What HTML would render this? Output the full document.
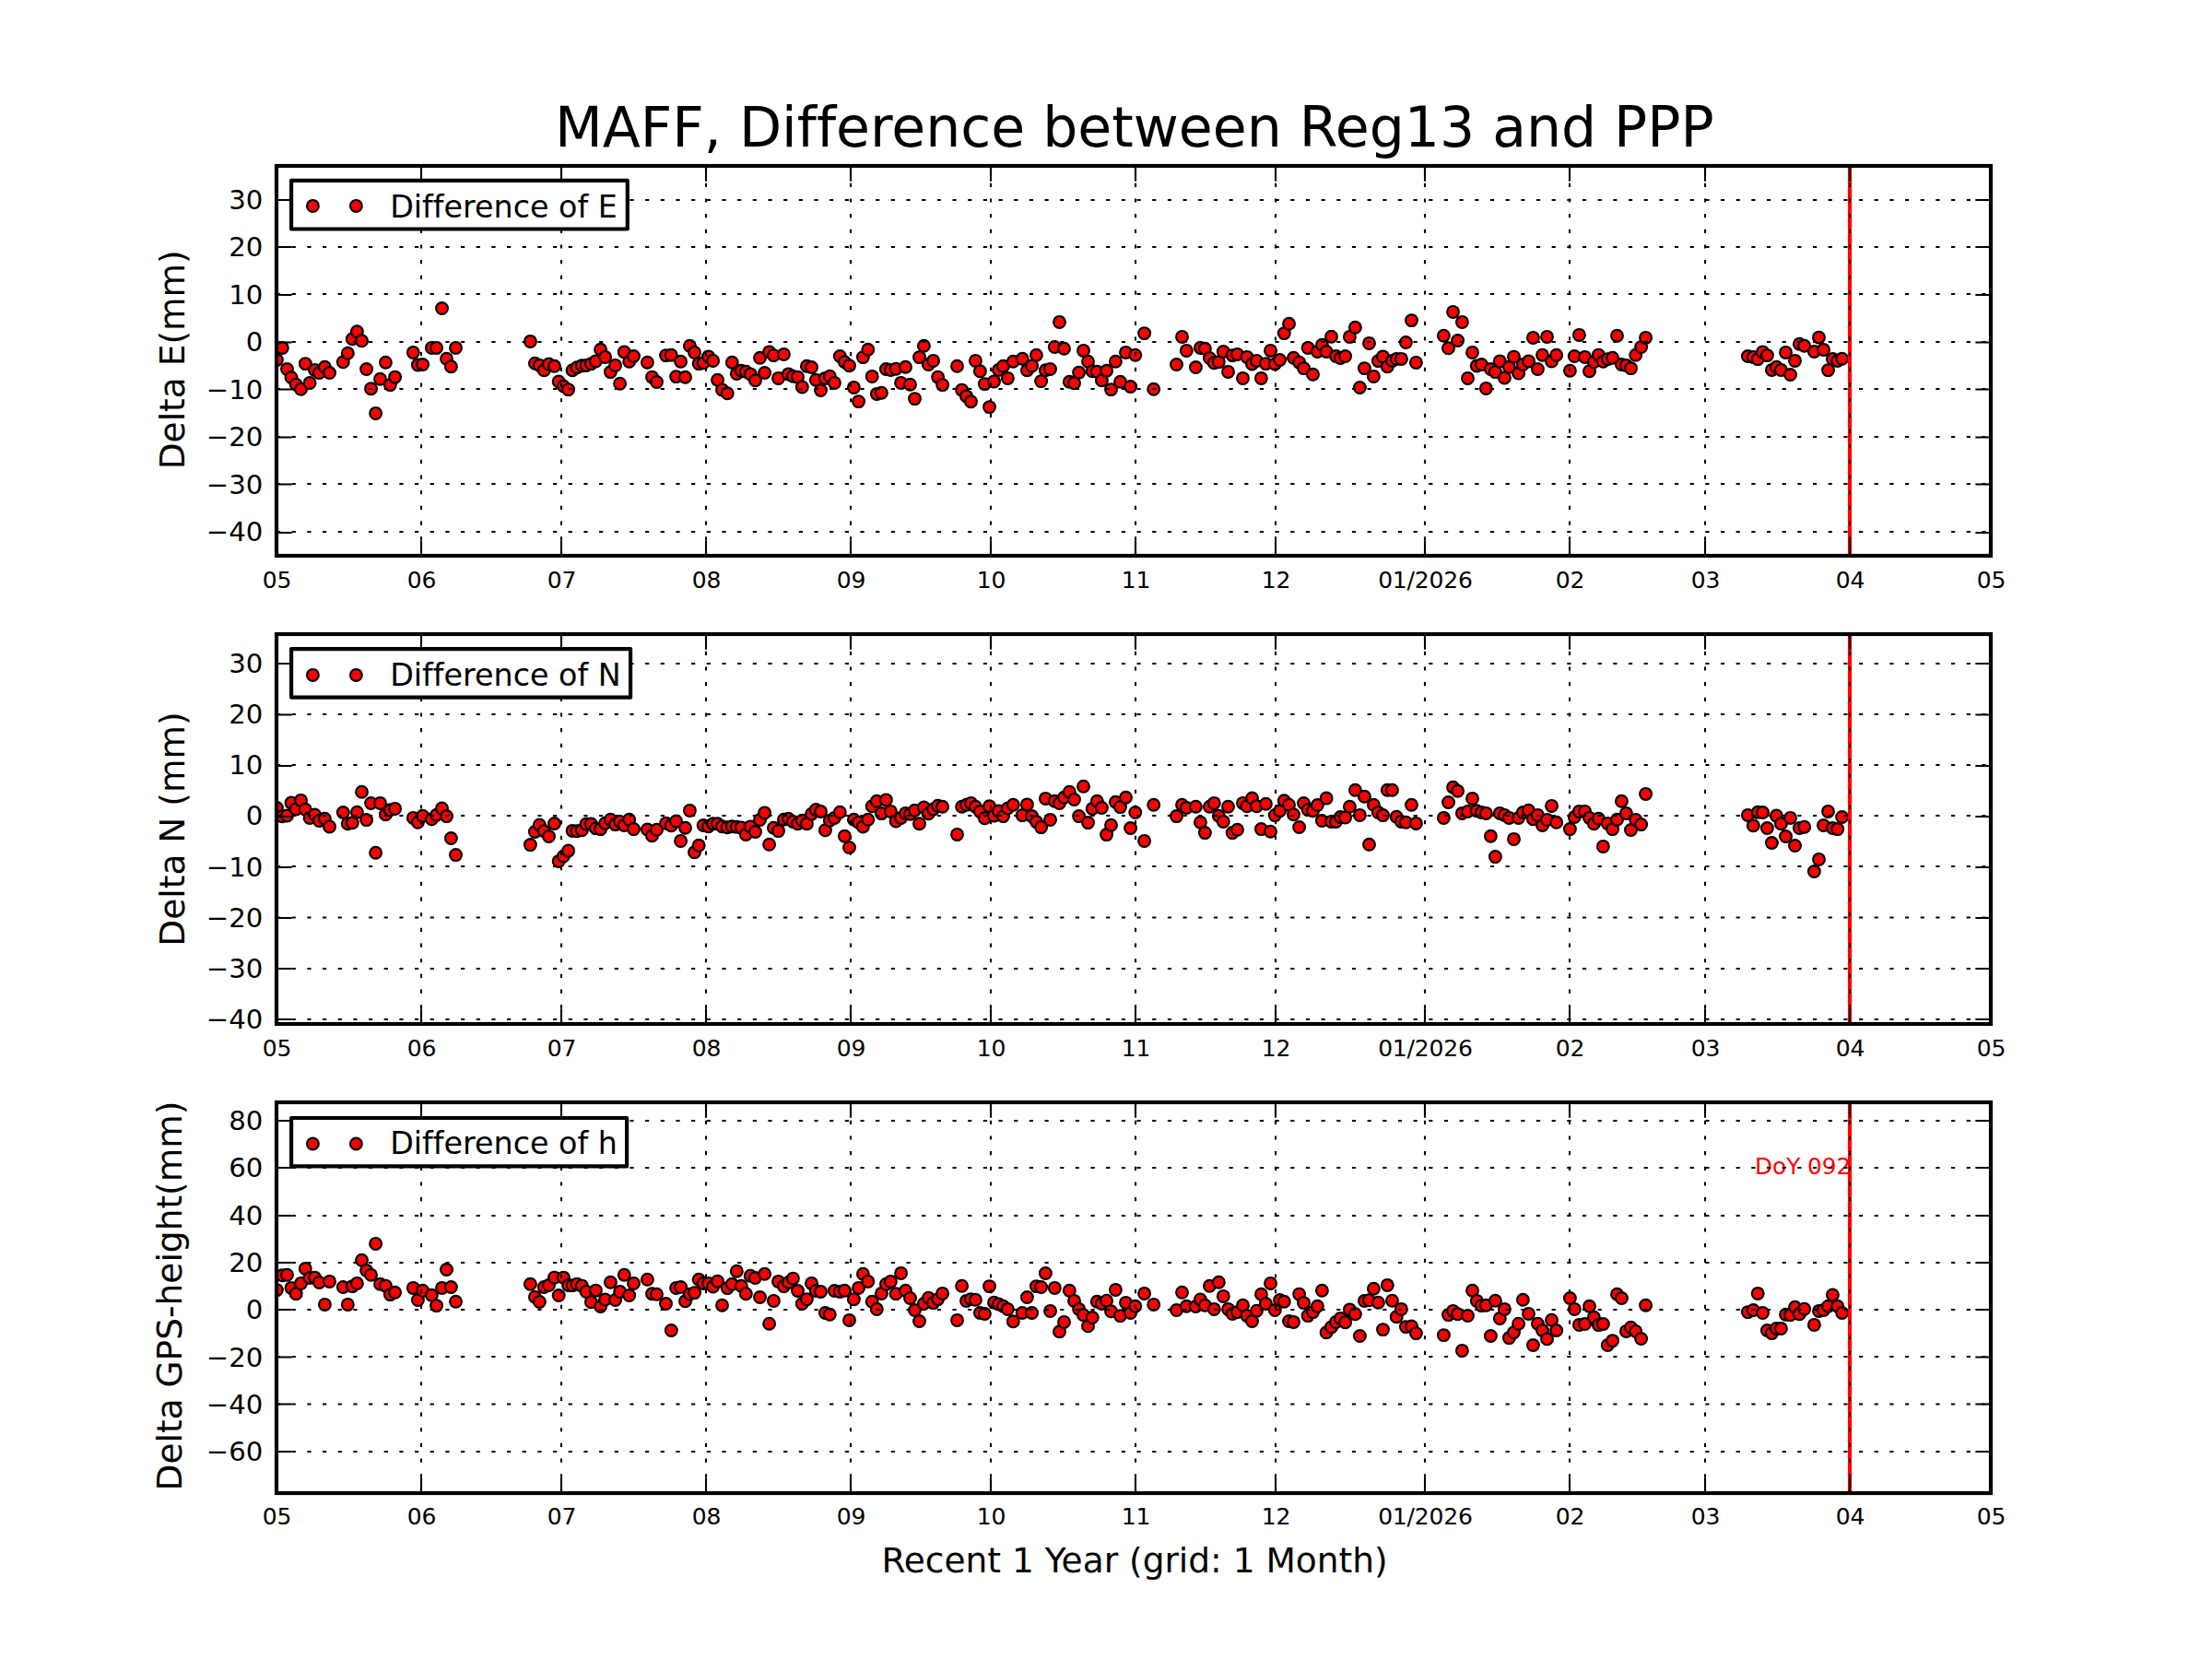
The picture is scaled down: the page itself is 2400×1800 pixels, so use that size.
<!DOCTYPE html>
<html><head><meta charset="utf-8"><title>MAFF, Difference between Reg13 and PPP</title>
<style>html,body{margin:0;padding:0;background:#fff}svg{display:block}text{font-family:"DejaVu Sans","Liberation Sans",sans-serif;fill:#000;font-variant-ligatures:none}.g{stroke:#000;stroke-width:2.08;stroke-dasharray:4.17 12.5;fill:none}.t{stroke:#000;stroke-width:2.08;fill:none}.m circle,circle.m{fill:#f00;stroke:#000;stroke-width:2.15}.yt{font-size:29.17px;text-anchor:end}.xt{font-size:25px;text-anchor:middle;letter-spacing:-0.2px}.yl{font-size:37.5px;text-anchor:middle}.lg{font-size:33.33px}</style></head><body>
<svg width="2400" height="1800" viewBox="0 0 2400 1800">
<rect width="2400" height="1800" fill="#fff"/>
<text x="1230.8" y="159.2" font-size="60" text-anchor="middle">MAFF, Difference between Reg13 and PPP</text>
<g>
<clipPath id="c0"><rect x="300.0" y="180.0" width="1860.0" height="423.0"/></clipPath>
<g class="m" clip-path="url(#c0)">
<circle cx="300.4" cy="390.5" r="6.4"/>
<circle cx="306.3" cy="377.4" r="6.4"/>
<circle cx="311.5" cy="400.5" r="6.4"/>
<circle cx="316" cy="409.5" r="6.4"/>
<circle cx="321.2" cy="417.2" r="6.4"/>
<circle cx="326.5" cy="422.2" r="6.4"/>
<circle cx="331.3" cy="394.6" r="6.4"/>
<circle cx="336.1" cy="415.4" r="6.4"/>
<circle cx="341.5" cy="401.4" r="6.4"/>
<circle cx="346.4" cy="404.5" r="6.4"/>
<circle cx="352.4" cy="398.2" r="6.4"/>
<circle cx="357.5" cy="404.5" r="6.4"/>
<circle cx="372.3" cy="392.8" r="6.4"/>
<circle cx="377.3" cy="383.3" r="6.4"/>
<circle cx="382.3" cy="367.7" r="6.4"/>
<circle cx="387.4" cy="359.8" r="6.4"/>
<circle cx="392.5" cy="369.7" r="6.4"/>
<circle cx="397.6" cy="400.5" r="6.4"/>
<circle cx="402.5" cy="421.7" r="6.4"/>
<circle cx="407.6" cy="448.4" r="6.4"/>
<circle cx="412.5" cy="411.3" r="6.4"/>
<circle cx="418.4" cy="393.2" r="6.4"/>
<circle cx="423.4" cy="417.6" r="6.4"/>
<circle cx="428.6" cy="409.1" r="6.4"/>
<circle cx="448.3" cy="382.4" r="6.4"/>
<circle cx="453.4" cy="395.9" r="6.4"/>
<circle cx="458.6" cy="395.5" r="6.4"/>
<circle cx="468.4" cy="377.4" r="6.4"/>
<circle cx="473.6" cy="377.4" r="6.4"/>
<circle cx="479.5" cy="334.5" r="6.4"/>
<circle cx="484.5" cy="389.2" r="6.4"/>
<circle cx="489.4" cy="397.8" r="6.4"/>
<circle cx="494.5" cy="377.4" r="6.4"/>
<circle cx="575.4" cy="370.4" r="6.4"/>
<circle cx="580.4" cy="394.3" r="6.4"/>
<circle cx="585.4" cy="396.4" r="6.4"/>
<circle cx="590.3" cy="401.8" r="6.4"/>
<circle cx="595.5" cy="395" r="6.4"/>
<circle cx="601.5" cy="397.3" r="6.4"/>
<circle cx="606.2" cy="414" r="6.4"/>
<circle cx="611.4" cy="419" r="6.4"/>
<circle cx="616.6" cy="422.6" r="6.4"/>
<circle cx="621.1" cy="401.8" r="6.4"/>
<circle cx="626" cy="398.7" r="6.4"/>
<circle cx="631.3" cy="396.7" r="6.4"/>
<circle cx="636.1" cy="396.4" r="6.4"/>
<circle cx="641.4" cy="394.6" r="6.4"/>
<circle cx="646.4" cy="391.9" r="6.4"/>
<circle cx="651.6" cy="379.2" r="6.4"/>
<circle cx="656.6" cy="387.4" r="6.4"/>
<circle cx="662.4" cy="403.6" r="6.4"/>
<circle cx="667.6" cy="396.4" r="6.4"/>
<circle cx="672.6" cy="416.3" r="6.4"/>
<circle cx="677.3" cy="381.9" r="6.4"/>
<circle cx="682.7" cy="392.3" r="6.4"/>
<circle cx="687.5" cy="386.5" r="6.4"/>
<circle cx="702.4" cy="393.2" r="6.4"/>
<circle cx="707.5" cy="409.1" r="6.4"/>
<circle cx="712.5" cy="414.5" r="6.4"/>
<circle cx="722.5" cy="385.6" r="6.4"/>
<circle cx="728.3" cy="385.3" r="6.4"/>
<circle cx="733.6" cy="408.6" r="6.4"/>
<circle cx="738.6" cy="392.3" r="6.4"/>
<circle cx="743.5" cy="409.3" r="6.4"/>
<circle cx="748.4" cy="375.2" r="6.4"/>
<circle cx="753.5" cy="382.4" r="6.4"/>
<circle cx="758.2" cy="394.6" r="6.4"/>
<circle cx="763.2" cy="393.7" r="6.4"/>
<circle cx="768.6" cy="386.9" r="6.4"/>
<circle cx="773.6" cy="391.4" r="6.4"/>
<circle cx="778.5" cy="412.2" r="6.4"/>
<circle cx="783.5" cy="422.9" r="6.4"/>
<circle cx="789.2" cy="426.7" r="6.4"/>
<circle cx="794.3" cy="393.2" r="6.4"/>
<circle cx="799.3" cy="405.4" r="6.4"/>
<circle cx="804.3" cy="402.3" r="6.4"/>
<circle cx="809.3" cy="403.2" r="6.4"/>
<circle cx="814.2" cy="405.9" r="6.4"/>
<circle cx="819.5" cy="412.7" r="6.4"/>
<circle cx="824.5" cy="388.3" r="6.4"/>
<circle cx="829.6" cy="404.5" r="6.4"/>
<circle cx="834.6" cy="381.9" r="6.4"/>
<circle cx="839.4" cy="385.6" r="6.4"/>
<circle cx="844.5" cy="410.4" r="6.4"/>
<circle cx="850.4" cy="384.4" r="6.4"/>
<circle cx="855.4" cy="405.9" r="6.4"/>
<circle cx="860.4" cy="408.2" r="6.4"/>
<circle cx="865.5" cy="409.1" r="6.4"/>
<circle cx="870.3" cy="419.9" r="6.4"/>
<circle cx="875.4" cy="397.3" r="6.4"/>
<circle cx="880.5" cy="398.5" r="6.4"/>
<circle cx="885.3" cy="412.2" r="6.4"/>
<circle cx="890.5" cy="423.5" r="6.4"/>
<circle cx="895.4" cy="410.4" r="6.4"/>
<circle cx="900.3" cy="408.2" r="6.4"/>
<circle cx="905.4" cy="415.4" r="6.4"/>
<circle cx="911.3" cy="386.5" r="6.4"/>
<circle cx="916.4" cy="392.8" r="6.4"/>
<circle cx="921.5" cy="396.7" r="6.4"/>
<circle cx="926.4" cy="420.4" r="6.4"/>
<circle cx="931.5" cy="435.6" r="6.4"/>
<circle cx="936.4" cy="387.6" r="6.4"/>
<circle cx="941.8" cy="379.2" r="6.4"/>
<circle cx="946.2" cy="408.4" r="6.4"/>
<circle cx="951.3" cy="427.4" r="6.4"/>
<circle cx="956.4" cy="426.2" r="6.4"/>
<circle cx="961.4" cy="400.5" r="6.4"/>
<circle cx="966.4" cy="401.4" r="6.4"/>
<circle cx="972.1" cy="400.3" r="6.4"/>
<circle cx="977.6" cy="415.4" r="6.4"/>
<circle cx="982.5" cy="398.2" r="6.4"/>
<circle cx="987.5" cy="417.2" r="6.4"/>
<circle cx="992.5" cy="432.6" r="6.4"/>
<circle cx="997.5" cy="387.6" r="6.4"/>
<circle cx="1002.4" cy="375.2" r="6.4"/>
<circle cx="1007.4" cy="395.5" r="6.4"/>
<circle cx="1012.6" cy="391.4" r="6.4"/>
<circle cx="1017.6" cy="409.1" r="6.4"/>
<circle cx="1022.6" cy="417.6" r="6.4"/>
<circle cx="1038.5" cy="397.3" r="6.4"/>
<circle cx="1043.6" cy="423.1" r="6.4"/>
<circle cx="1048.5" cy="429.9" r="6.4"/>
<circle cx="1053.5" cy="435.7" r="6.4"/>
<circle cx="1058.4" cy="391.4" r="6.4"/>
<circle cx="1063.4" cy="402.7" r="6.4"/>
<circle cx="1068.4" cy="416.6" r="6.4"/>
<circle cx="1073.5" cy="441.6" r="6.4"/>
<circle cx="1078.5" cy="413.9" r="6.4"/>
<circle cx="1083.5" cy="401.4" r="6.4"/>
<circle cx="1088.5" cy="397.3" r="6.4"/>
<circle cx="1093.4" cy="410.4" r="6.4"/>
<circle cx="1099.3" cy="392.3" r="6.4"/>
<circle cx="1109.2" cy="389.2" r="6.4"/>
<circle cx="1114.4" cy="401.8" r="6.4"/>
<circle cx="1119.6" cy="396.9" r="6.4"/>
<circle cx="1124.4" cy="385.3" r="6.4"/>
<circle cx="1129.6" cy="413.6" r="6.4"/>
<circle cx="1134.4" cy="401.8" r="6.4"/>
<circle cx="1139.5" cy="400.5" r="6.4"/>
<circle cx="1144.3" cy="376.5" r="6.4"/>
<circle cx="1149.5" cy="349.4" r="6.4"/>
<circle cx="1154.5" cy="378.3" r="6.4"/>
<circle cx="1160.3" cy="414.2" r="6.4"/>
<circle cx="1165.5" cy="415.8" r="6.4"/>
<circle cx="1170.6" cy="404.1" r="6.4"/>
<circle cx="1175.5" cy="380.4" r="6.4"/>
<circle cx="1180.5" cy="392.3" r="6.4"/>
<circle cx="1185.2" cy="402.7" r="6.4"/>
<circle cx="1190.3" cy="403.2" r="6.4"/>
<circle cx="1195.4" cy="412.7" r="6.4"/>
<circle cx="1200.6" cy="402.3" r="6.4"/>
<circle cx="1205.5" cy="422.6" r="6.4"/>
<circle cx="1210.4" cy="392.3" r="6.4"/>
<circle cx="1215.5" cy="414.2" r="6.4"/>
<circle cx="1221.5" cy="382.4" r="6.4"/>
<circle cx="1226.6" cy="419.5" r="6.4"/>
<circle cx="1231.8" cy="385.3" r="6.4"/>
<circle cx="1241.6" cy="361.6" r="6.4"/>
<circle cx="1251.7" cy="422.2" r="6.4"/>
<circle cx="1276.5" cy="395.5" r="6.4"/>
<circle cx="1282.5" cy="365.4" r="6.4"/>
<circle cx="1287.3" cy="380.4" r="6.4"/>
<circle cx="1297.4" cy="398.5" r="6.4"/>
<circle cx="1302.4" cy="377.4" r="6.4"/>
<circle cx="1307.4" cy="378.3" r="6.4"/>
<circle cx="1312.4" cy="388.5" r="6.4"/>
<circle cx="1317.3" cy="393.7" r="6.4"/>
<circle cx="1322.3" cy="392.8" r="6.4"/>
<circle cx="1327.3" cy="381.5" r="6.4"/>
<circle cx="1332.5" cy="403.4" r="6.4"/>
<circle cx="1337.2" cy="385.6" r="6.4"/>
<circle cx="1342.5" cy="384.4" r="6.4"/>
<circle cx="1348.5" cy="410.4" r="6.4"/>
<circle cx="1353" cy="387.4" r="6.4"/>
<circle cx="1358.5" cy="394.9" r="6.4"/>
<circle cx="1363.4" cy="391.4" r="6.4"/>
<circle cx="1368.4" cy="410.4" r="6.4"/>
<circle cx="1373.4" cy="394.6" r="6.4"/>
<circle cx="1378.5" cy="380.4" r="6.4"/>
<circle cx="1383.3" cy="395" r="6.4"/>
<circle cx="1388.6" cy="390.5" r="6.4"/>
<circle cx="1393.3" cy="361.6" r="6.4"/>
<circle cx="1398.5" cy="351.2" r="6.4"/>
<circle cx="1403.5" cy="388.3" r="6.4"/>
<circle cx="1409.6" cy="393.1" r="6.4"/>
<circle cx="1414.5" cy="399.6" r="6.4"/>
<circle cx="1419.1" cy="377.4" r="6.4"/>
<circle cx="1424.5" cy="406.3" r="6.4"/>
<circle cx="1429.4" cy="381.5" r="6.4"/>
<circle cx="1434.4" cy="374.2" r="6.4"/>
<circle cx="1439.1" cy="381.5" r="6.4"/>
<circle cx="1444.5" cy="365.2" r="6.4"/>
<circle cx="1449.5" cy="386.5" r="6.4"/>
<circle cx="1454.4" cy="388.5" r="6.4"/>
<circle cx="1459.6" cy="386.5" r="6.4"/>
<circle cx="1464.4" cy="365.4" r="6.4"/>
<circle cx="1470.4" cy="355.3" r="6.4"/>
<circle cx="1475.4" cy="420.5" r="6.4"/>
<circle cx="1480.4" cy="399.6" r="6.4"/>
<circle cx="1485.5" cy="372.4" r="6.4"/>
<circle cx="1490.4" cy="408.4" r="6.4"/>
<circle cx="1495.4" cy="391.6" r="6.4"/>
<circle cx="1500.5" cy="386.9" r="6.4"/>
<circle cx="1505.3" cy="397.8" r="6.4"/>
<circle cx="1510.5" cy="391.4" r="6.4"/>
<circle cx="1515.2" cy="389.4" r="6.4"/>
<circle cx="1520.4" cy="389.4" r="6.4"/>
<circle cx="1525.4" cy="371.5" r="6.4"/>
<circle cx="1531.5" cy="347.6" r="6.4"/>
<circle cx="1536.4" cy="393.4" r="6.4"/>
<circle cx="1566.4" cy="364.3" r="6.4"/>
<circle cx="1571.5" cy="377.7" r="6.4"/>
<circle cx="1576.5" cy="338.4" r="6.4"/>
<circle cx="1581.6" cy="369.5" r="6.4"/>
<circle cx="1586.4" cy="349.4" r="6.4"/>
<circle cx="1592.5" cy="410.4" r="6.4"/>
<circle cx="1597.5" cy="382.4" r="6.4"/>
<circle cx="1602.3" cy="396.9" r="6.4"/>
<circle cx="1607.4" cy="395.5" r="6.4"/>
<circle cx="1612.4" cy="421.4" r="6.4"/>
<circle cx="1617.4" cy="400.5" r="6.4"/>
<circle cx="1622.4" cy="403.6" r="6.4"/>
<circle cx="1627.3" cy="391.9" r="6.4"/>
<circle cx="1632.4" cy="410" r="6.4"/>
<circle cx="1637.4" cy="398.2" r="6.4"/>
<circle cx="1642.5" cy="387.1" r="6.4"/>
<circle cx="1647.6" cy="405" r="6.4"/>
<circle cx="1652.4" cy="395.5" r="6.4"/>
<circle cx="1658.5" cy="391.9" r="6.4"/>
<circle cx="1663.4" cy="366.4" r="6.4"/>
<circle cx="1668.4" cy="400.5" r="6.4"/>
<circle cx="1673.5" cy="385.3" r="6.4"/>
<circle cx="1678.5" cy="365.4" r="6.4"/>
<circle cx="1683.5" cy="391.9" r="6.4"/>
<circle cx="1688.7" cy="385.3" r="6.4"/>
<circle cx="1703.4" cy="402.3" r="6.4"/>
<circle cx="1708.3" cy="386.5" r="6.4"/>
<circle cx="1713.4" cy="363.4" r="6.4"/>
<circle cx="1719.6" cy="387.4" r="6.4"/>
<circle cx="1724.5" cy="402.7" r="6.4"/>
<circle cx="1729.4" cy="392.8" r="6.4"/>
<circle cx="1734.4" cy="385.1" r="6.4"/>
<circle cx="1739.4" cy="392.3" r="6.4"/>
<circle cx="1744.3" cy="389.6" r="6.4"/>
<circle cx="1749.6" cy="388.3" r="6.4"/>
<circle cx="1754.5" cy="364.3" r="6.4"/>
<circle cx="1759.4" cy="395.5" r="6.4"/>
<circle cx="1764.4" cy="396.4" r="6.4"/>
<circle cx="1769.5" cy="399.6" r="6.4"/>
<circle cx="1774.7" cy="385.3" r="6.4"/>
<circle cx="1780.6" cy="376.5" r="6.4"/>
<circle cx="1785.6" cy="366.4" r="6.4"/>
<circle cx="1896.4" cy="386.5" r="6.4"/>
<circle cx="1902.3" cy="387.4" r="6.4"/>
<circle cx="1907.2" cy="389.6" r="6.4"/>
<circle cx="1912.5" cy="381.9" r="6.4"/>
<circle cx="1917.4" cy="385.6" r="6.4"/>
<circle cx="1922.4" cy="401.4" r="6.4"/>
<circle cx="1927.4" cy="398.2" r="6.4"/>
<circle cx="1932.4" cy="401.4" r="6.4"/>
<circle cx="1937.5" cy="382.4" r="6.4"/>
<circle cx="1942.5" cy="406.5" r="6.4"/>
<circle cx="1947.5" cy="391.4" r="6.4"/>
<circle cx="1952.4" cy="373.3" r="6.4"/>
<circle cx="1957.7" cy="375.3" r="6.4"/>
<circle cx="1968.4" cy="381.5" r="6.4"/>
<circle cx="1973.5" cy="366.1" r="6.4"/>
<circle cx="1978.5" cy="379.4" r="6.4"/>
<circle cx="1983.5" cy="401.6" r="6.4"/>
<circle cx="1988.4" cy="389.4" r="6.4"/>
<circle cx="1993.7" cy="391.4" r="6.4"/>
<circle cx="1998.6" cy="389.2" r="6.4"/>
<line x1="2007.0" y1="180.0" x2="2007.0" y2="603.0" stroke="#f00" stroke-width="4.17"/>
</g>
<line class="g" x1="457" y1="603.0" x2="457" y2="180.0"/>
<line class="g" x1="609" y1="603.0" x2="609" y2="180.0"/>
<line class="g" x1="766" y1="603.0" x2="766" y2="180.0"/>
<line class="g" x1="923" y1="603.0" x2="923" y2="180.0"/>
<line class="g" x1="1075" y1="603.0" x2="1075" y2="180.0"/>
<line class="g" x1="1232" y1="603.0" x2="1232" y2="180.0"/>
<line class="g" x1="1384" y1="603.0" x2="1384" y2="180.0"/>
<line class="g" x1="1546" y1="603.0" x2="1546" y2="180.0"/>
<line class="g" x1="1703" y1="603.0" x2="1703" y2="180.0"/>
<line class="g" x1="1850" y1="603.0" x2="1850" y2="180.0"/>
<line class="g" x1="2007" y1="603.0" x2="2007" y2="180.0"/>
<line class="g" x1="300.0" y1="217" x2="2160.0" y2="217"/>
<line class="g" x1="300.0" y1="268" x2="2160.0" y2="268"/>
<line class="g" x1="300.0" y1="319" x2="2160.0" y2="319"/>
<line class="g" x1="300.0" y1="371" x2="2160.0" y2="371"/>
<line class="g" x1="300.0" y1="422" x2="2160.0" y2="422"/>
<line class="g" x1="300.0" y1="474" x2="2160.0" y2="474"/>
<line class="g" x1="300.0" y1="525" x2="2160.0" y2="525"/>
<line class="g" x1="300.0" y1="577" x2="2160.0" y2="577"/>
<path class="t" d="M300 603.0v-16.67M300 180.0v16.67M457 603.0v-16.67M457 180.0v16.67M609 603.0v-16.67M609 180.0v16.67M766 603.0v-16.67M766 180.0v16.67M923 603.0v-16.67M923 180.0v16.67M1075 603.0v-16.67M1075 180.0v16.67M1232 603.0v-16.67M1232 180.0v16.67M1384 603.0v-16.67M1384 180.0v16.67M1546 603.0v-16.67M1546 180.0v16.67M1703 603.0v-16.67M1703 180.0v16.67M1850 603.0v-16.67M1850 180.0v16.67M2007 603.0v-16.67M2007 180.0v16.67M2160 603.0v-16.67M2160 180.0v16.67M300.0 217h16.67M2160.0 217h-16.67M300.0 268h16.67M2160.0 268h-16.67M300.0 320h16.67M2160.0 320h-16.67M300.0 371.5h16.67M2160.0 371.5h-16.67M300.0 422.5h16.67M2160.0 422.5h-16.67M300.0 474.5h16.67M2160.0 474.5h-16.67M300.0 525.5h16.67M2160.0 525.5h-16.67M300.0 578h16.67M2160.0 578h-16.67"/>
<rect x="300.0" y="180.0" width="1860.0" height="423.0" fill="none" stroke="#000" stroke-width="4.17"/>
<text class="yt" x="285.4" y="226.9">30</text>
<text class="yt" x="285.4" y="277.9">20</text>
<text class="yt" x="285.4" y="329.9">10</text>
<text class="yt" x="285.4" y="380.9">0</text>
<text class="yt" x="285.4" y="432.9">−10</text>
<text class="yt" x="285.4" y="483.9">−20</text>
<text class="yt" x="285.4" y="535.9">−30</text>
<text class="yt" x="285.4" y="586.9">−40</text>
<text class="xt" x="300.4" y="638">05</text>
<text class="xt" x="457.4" y="638">06</text>
<text class="xt" x="609.4" y="638">07</text>
<text class="xt" x="766.4" y="638">08</text>
<text class="xt" x="923.4" y="638">09</text>
<text class="xt" x="1075.4" y="638">10</text>
<text class="xt" x="1232.4" y="638">11</text>
<text class="xt" x="1384.4" y="638">12</text>
<text class="xt" x="1546.4" y="638">01/2026</text>
<text class="xt" x="1703.4" y="638">02</text>
<text class="xt" x="1850.4" y="638">03</text>
<text class="xt" x="2007.4" y="638">04</text>
<text class="xt" x="2160.4" y="638">05</text>
<text class="yl" transform="translate(200.3 390.3) rotate(-90)">Delta E(mm)</text>
<rect x="316.1" y="195.9" width="364.7" height="52.6" fill="#fff" stroke="#000" stroke-width="4.17" stroke-linejoin="round"/>
<circle class="m" cx="339.4" cy="223.4" r="6.4"/><circle class="m" cx="386.4" cy="223.4" r="6.4"/>
<text class="lg" x="423.2" y="235.7">Difference of E</text>
</g>
<g>
<clipPath id="c1"><rect x="300.0" y="688.0" width="1860.0" height="423.0"/></clipPath>
<g class="m" clip-path="url(#c1)">
<circle cx="300.4" cy="876.5" r="6.4"/>
<circle cx="306.3" cy="885.8" r="6.4"/>
<circle cx="311.5" cy="884.9" r="6.4"/>
<circle cx="316" cy="871.1" r="6.4"/>
<circle cx="321.2" cy="877.9" r="6.4"/>
<circle cx="326.5" cy="868.4" r="6.4"/>
<circle cx="331.3" cy="878.3" r="6.4"/>
<circle cx="336.1" cy="887.4" r="6.4"/>
<circle cx="341.5" cy="884" r="6.4"/>
<circle cx="346.4" cy="890.5" r="6.4"/>
<circle cx="352.4" cy="888.3" r="6.4"/>
<circle cx="357.5" cy="896.9" r="6.4"/>
<circle cx="372.3" cy="881.5" r="6.4"/>
<circle cx="377.3" cy="893.7" r="6.4"/>
<circle cx="382.3" cy="892.8" r="6.4"/>
<circle cx="387.4" cy="881.3" r="6.4"/>
<circle cx="392.5" cy="859.3" r="6.4"/>
<circle cx="397.6" cy="889.6" r="6.4"/>
<circle cx="402.5" cy="871.5" r="6.4"/>
<circle cx="407.6" cy="925.3" r="6.4"/>
<circle cx="412.5" cy="871.4" r="6.4"/>
<circle cx="418.4" cy="883.7" r="6.4"/>
<circle cx="423.4" cy="878.8" r="6.4"/>
<circle cx="428.6" cy="877.4" r="6.4"/>
<circle cx="448.3" cy="887.4" r="6.4"/>
<circle cx="453.4" cy="892.3" r="6.4"/>
<circle cx="458.6" cy="885.3" r="6.4"/>
<circle cx="468.4" cy="888.7" r="6.4"/>
<circle cx="473.6" cy="884.2" r="6.4"/>
<circle cx="479.5" cy="877.1" r="6.4"/>
<circle cx="484.5" cy="885.6" r="6.4"/>
<circle cx="489.4" cy="909.5" r="6.4"/>
<circle cx="494.5" cy="927.6" r="6.4"/>
<circle cx="575.4" cy="916.6" r="6.4"/>
<circle cx="580.4" cy="902.5" r="6.4"/>
<circle cx="585.4" cy="895" r="6.4"/>
<circle cx="590.3" cy="901.8" r="6.4"/>
<circle cx="595.5" cy="907.5" r="6.4"/>
<circle cx="601.5" cy="893.5" r="6.4"/>
<circle cx="606.2" cy="934.4" r="6.4"/>
<circle cx="611.4" cy="929" r="6.4"/>
<circle cx="616.6" cy="923.1" r="6.4"/>
<circle cx="621.1" cy="901.4" r="6.4"/>
<circle cx="626" cy="901.8" r="6.4"/>
<circle cx="631.3" cy="900.7" r="6.4"/>
<circle cx="636.1" cy="894.1" r="6.4"/>
<circle cx="641.4" cy="894.1" r="6.4"/>
<circle cx="646.4" cy="898.8" r="6.4"/>
<circle cx="651.6" cy="899.6" r="6.4"/>
<circle cx="656.6" cy="893.2" r="6.4"/>
<circle cx="662.4" cy="889.2" r="6.4"/>
<circle cx="667.6" cy="894.6" r="6.4"/>
<circle cx="672.6" cy="891.4" r="6.4"/>
<circle cx="677.3" cy="895.5" r="6.4"/>
<circle cx="682.7" cy="889.2" r="6.4"/>
<circle cx="687.5" cy="899.6" r="6.4"/>
<circle cx="702.4" cy="900" r="6.4"/>
<circle cx="707.5" cy="906.8" r="6.4"/>
<circle cx="712.5" cy="900.3" r="6.4"/>
<circle cx="722.5" cy="893.2" r="6.4"/>
<circle cx="728.3" cy="895.8" r="6.4"/>
<circle cx="733.6" cy="891" r="6.4"/>
<circle cx="738.6" cy="912.4" r="6.4"/>
<circle cx="743.5" cy="898.2" r="6.4"/>
<circle cx="748.4" cy="879.4" r="6.4"/>
<circle cx="753.5" cy="924.7" r="6.4"/>
<circle cx="758.2" cy="917.2" r="6.4"/>
<circle cx="763.2" cy="895.5" r="6.4"/>
<circle cx="768.6" cy="896.7" r="6.4"/>
<circle cx="773.6" cy="893.7" r="6.4"/>
<circle cx="778.5" cy="893.7" r="6.4"/>
<circle cx="783.5" cy="896.7" r="6.4"/>
<circle cx="789.2" cy="897.8" r="6.4"/>
<circle cx="794.3" cy="896.7" r="6.4"/>
<circle cx="799.3" cy="897.3" r="6.4"/>
<circle cx="804.3" cy="897.9" r="6.4"/>
<circle cx="809.3" cy="905.4" r="6.4"/>
<circle cx="814.2" cy="896.9" r="6.4"/>
<circle cx="819.5" cy="902.5" r="6.4"/>
<circle cx="824.5" cy="889.4" r="6.4"/>
<circle cx="829.6" cy="881.9" r="6.4"/>
<circle cx="834.6" cy="916.3" r="6.4"/>
<circle cx="839.4" cy="898.2" r="6.4"/>
<circle cx="844.5" cy="901.6" r="6.4"/>
<circle cx="850.4" cy="889.2" r="6.4"/>
<circle cx="855.4" cy="888.3" r="6.4"/>
<circle cx="860.4" cy="891.4" r="6.4"/>
<circle cx="865.5" cy="893.7" r="6.4"/>
<circle cx="870.3" cy="890.3" r="6.4"/>
<circle cx="875.4" cy="893.7" r="6.4"/>
<circle cx="880.5" cy="883.3" r="6.4"/>
<circle cx="885.3" cy="878.6" r="6.4"/>
<circle cx="890.5" cy="880.4" r="6.4"/>
<circle cx="895.4" cy="900.7" r="6.4"/>
<circle cx="900.3" cy="890.3" r="6.4"/>
<circle cx="905.4" cy="887.4" r="6.4"/>
<circle cx="911.3" cy="881.3" r="6.4"/>
<circle cx="916.4" cy="907.3" r="6.4"/>
<circle cx="921.5" cy="919.5" r="6.4"/>
<circle cx="926.4" cy="889.2" r="6.4"/>
<circle cx="931.5" cy="892.3" r="6.4"/>
<circle cx="936.4" cy="896.9" r="6.4"/>
<circle cx="941.8" cy="889.2" r="6.4"/>
<circle cx="946.2" cy="874.7" r="6.4"/>
<circle cx="951.3" cy="869.3" r="6.4"/>
<circle cx="956.4" cy="882.6" r="6.4"/>
<circle cx="961.4" cy="867.9" r="6.4"/>
<circle cx="966.4" cy="880.4" r="6.4"/>
<circle cx="972.1" cy="891" r="6.4"/>
<circle cx="977.6" cy="887.4" r="6.4"/>
<circle cx="982.5" cy="882.4" r="6.4"/>
<circle cx="987.5" cy="883.3" r="6.4"/>
<circle cx="992.5" cy="879.2" r="6.4"/>
<circle cx="997.5" cy="893.7" r="6.4"/>
<circle cx="1002.4" cy="876.1" r="6.4"/>
<circle cx="1007.4" cy="882.8" r="6.4"/>
<circle cx="1012.6" cy="877.9" r="6.4"/>
<circle cx="1017.6" cy="874.2" r="6.4"/>
<circle cx="1022.6" cy="875.3" r="6.4"/>
<circle cx="1038.5" cy="905.4" r="6.4"/>
<circle cx="1043.6" cy="875.3" r="6.4"/>
<circle cx="1048.5" cy="873.3" r="6.4"/>
<circle cx="1053.5" cy="871.4" r="6.4"/>
<circle cx="1058.4" cy="875.3" r="6.4"/>
<circle cx="1063.4" cy="880.6" r="6.4"/>
<circle cx="1068.4" cy="887.8" r="6.4"/>
<circle cx="1073.5" cy="874.7" r="6.4"/>
<circle cx="1078.5" cy="885.1" r="6.4"/>
<circle cx="1083.5" cy="880.1" r="6.4"/>
<circle cx="1088.5" cy="885.6" r="6.4"/>
<circle cx="1093.4" cy="877" r="6.4"/>
<circle cx="1099.3" cy="873.3" r="6.4"/>
<circle cx="1109.2" cy="884.6" r="6.4"/>
<circle cx="1114.4" cy="872.9" r="6.4"/>
<circle cx="1119.6" cy="885.6" r="6.4"/>
<circle cx="1124.4" cy="891.6" r="6.4"/>
<circle cx="1129.6" cy="897.6" r="6.4"/>
<circle cx="1134.4" cy="866.4" r="6.4"/>
<circle cx="1139.5" cy="889.4" r="6.4"/>
<circle cx="1144.3" cy="869.3" r="6.4"/>
<circle cx="1149.5" cy="871.5" r="6.4"/>
<circle cx="1154.5" cy="865.2" r="6.4"/>
<circle cx="1160.3" cy="859.3" r="6.4"/>
<circle cx="1165.5" cy="867.5" r="6.4"/>
<circle cx="1170.6" cy="885.6" r="6.4"/>
<circle cx="1175.5" cy="853.3" r="6.4"/>
<circle cx="1180.5" cy="892.6" r="6.4"/>
<circle cx="1185.2" cy="877.4" r="6.4"/>
<circle cx="1190.3" cy="869.3" r="6.4"/>
<circle cx="1195.4" cy="876.5" r="6.4"/>
<circle cx="1200.6" cy="905.6" r="6.4"/>
<circle cx="1205.5" cy="895.3" r="6.4"/>
<circle cx="1210.4" cy="870.2" r="6.4"/>
<circle cx="1215.5" cy="875.6" r="6.4"/>
<circle cx="1221.5" cy="865.2" r="6.4"/>
<circle cx="1226.6" cy="898.5" r="6.4"/>
<circle cx="1231.8" cy="881.5" r="6.4"/>
<circle cx="1241.6" cy="912.4" r="6.4"/>
<circle cx="1251.7" cy="873.3" r="6.4"/>
<circle cx="1276.5" cy="885.6" r="6.4"/>
<circle cx="1282.5" cy="873.3" r="6.4"/>
<circle cx="1287.3" cy="876.5" r="6.4"/>
<circle cx="1297.4" cy="875.2" r="6.4"/>
<circle cx="1302.4" cy="892.3" r="6.4"/>
<circle cx="1307.4" cy="903.6" r="6.4"/>
<circle cx="1312.4" cy="875.3" r="6.4"/>
<circle cx="1317.3" cy="871.4" r="6.4"/>
<circle cx="1322.3" cy="885.3" r="6.4"/>
<circle cx="1327.3" cy="891.4" r="6.4"/>
<circle cx="1332.5" cy="875.3" r="6.4"/>
<circle cx="1337.2" cy="903.6" r="6.4"/>
<circle cx="1342.5" cy="900.3" r="6.4"/>
<circle cx="1348.5" cy="871.4" r="6.4"/>
<circle cx="1353" cy="874.7" r="6.4"/>
<circle cx="1358.5" cy="866.1" r="6.4"/>
<circle cx="1363.4" cy="874.7" r="6.4"/>
<circle cx="1368.4" cy="899.6" r="6.4"/>
<circle cx="1373.4" cy="872.3" r="6.4"/>
<circle cx="1378.5" cy="902.3" r="6.4"/>
<circle cx="1383.3" cy="884.6" r="6.4"/>
<circle cx="1388.6" cy="879.7" r="6.4"/>
<circle cx="1393.3" cy="868.8" r="6.4"/>
<circle cx="1398.5" cy="873.3" r="6.4"/>
<circle cx="1403.5" cy="883.7" r="6.4"/>
<circle cx="1409.6" cy="897.5" r="6.4"/>
<circle cx="1414.5" cy="871.5" r="6.4"/>
<circle cx="1419.1" cy="878.6" r="6.4"/>
<circle cx="1424.5" cy="879.7" r="6.4"/>
<circle cx="1429.4" cy="873.5" r="6.4"/>
<circle cx="1434.4" cy="890.5" r="6.4"/>
<circle cx="1439.1" cy="866.1" r="6.4"/>
<circle cx="1444.5" cy="891.4" r="6.4"/>
<circle cx="1449.5" cy="891.4" r="6.4"/>
<circle cx="1454.4" cy="886.5" r="6.4"/>
<circle cx="1459.6" cy="886.9" r="6.4"/>
<circle cx="1464.4" cy="875.2" r="6.4"/>
<circle cx="1470.4" cy="857.3" r="6.4"/>
<circle cx="1475.4" cy="884.4" r="6.4"/>
<circle cx="1480.4" cy="864.3" r="6.4"/>
<circle cx="1485.5" cy="916.3" r="6.4"/>
<circle cx="1490.4" cy="873.3" r="6.4"/>
<circle cx="1495.4" cy="881.5" r="6.4"/>
<circle cx="1500.5" cy="884.6" r="6.4"/>
<circle cx="1505.3" cy="857.3" r="6.4"/>
<circle cx="1510.5" cy="857.3" r="6.4"/>
<circle cx="1515.2" cy="886.3" r="6.4"/>
<circle cx="1520.4" cy="891.4" r="6.4"/>
<circle cx="1525.4" cy="892.3" r="6.4"/>
<circle cx="1531.5" cy="873.3" r="6.4"/>
<circle cx="1536.4" cy="893.4" r="6.4"/>
<circle cx="1566.4" cy="887.4" r="6.4"/>
<circle cx="1571.5" cy="870.5" r="6.4"/>
<circle cx="1576.5" cy="854.2" r="6.4"/>
<circle cx="1581.6" cy="858.2" r="6.4"/>
<circle cx="1586.4" cy="882.4" r="6.4"/>
<circle cx="1592.5" cy="880.4" r="6.4"/>
<circle cx="1597.5" cy="866.4" r="6.4"/>
<circle cx="1602.3" cy="879.7" r="6.4"/>
<circle cx="1607.4" cy="881.5" r="6.4"/>
<circle cx="1612.4" cy="882.4" r="6.4"/>
<circle cx="1617.4" cy="907.3" r="6.4"/>
<circle cx="1622.4" cy="929.6" r="6.4"/>
<circle cx="1627.3" cy="882.4" r="6.4"/>
<circle cx="1632.4" cy="884.4" r="6.4"/>
<circle cx="1637.4" cy="887.4" r="6.4"/>
<circle cx="1642.5" cy="910.4" r="6.4"/>
<circle cx="1647.6" cy="887.4" r="6.4"/>
<circle cx="1652.4" cy="881.5" r="6.4"/>
<circle cx="1658.5" cy="879.2" r="6.4"/>
<circle cx="1663.4" cy="888.7" r="6.4"/>
<circle cx="1668.4" cy="884.4" r="6.4"/>
<circle cx="1673.5" cy="895.5" r="6.4"/>
<circle cx="1678.5" cy="889.4" r="6.4"/>
<circle cx="1683.5" cy="874.4" r="6.4"/>
<circle cx="1688.7" cy="892.3" r="6.4"/>
<circle cx="1703.4" cy="899.6" r="6.4"/>
<circle cx="1708.3" cy="886.5" r="6.4"/>
<circle cx="1713.4" cy="880.4" r="6.4"/>
<circle cx="1719.6" cy="880.4" r="6.4"/>
<circle cx="1724.5" cy="887.4" r="6.4"/>
<circle cx="1729.4" cy="893.7" r="6.4"/>
<circle cx="1734.4" cy="888.3" r="6.4"/>
<circle cx="1739.4" cy="918.4" r="6.4"/>
<circle cx="1744.3" cy="893.4" r="6.4"/>
<circle cx="1749.6" cy="899.6" r="6.4"/>
<circle cx="1754.5" cy="889.2" r="6.4"/>
<circle cx="1759.4" cy="869.3" r="6.4"/>
<circle cx="1764.4" cy="882.4" r="6.4"/>
<circle cx="1769.5" cy="900.5" r="6.4"/>
<circle cx="1774.7" cy="889.4" r="6.4"/>
<circle cx="1780.6" cy="894.6" r="6.4"/>
<circle cx="1785.6" cy="861.4" r="6.4"/>
<circle cx="1896.4" cy="884.4" r="6.4"/>
<circle cx="1902.3" cy="895.8" r="6.4"/>
<circle cx="1907.2" cy="881.3" r="6.4"/>
<circle cx="1912.5" cy="881.5" r="6.4"/>
<circle cx="1917.4" cy="898.5" r="6.4"/>
<circle cx="1922.4" cy="914.5" r="6.4"/>
<circle cx="1927.4" cy="885.1" r="6.4"/>
<circle cx="1932.4" cy="893.7" r="6.4"/>
<circle cx="1937.5" cy="907.5" r="6.4"/>
<circle cx="1942.5" cy="887.4" r="6.4"/>
<circle cx="1947.5" cy="917.5" r="6.4"/>
<circle cx="1952.4" cy="898.5" r="6.4"/>
<circle cx="1957.7" cy="897.3" r="6.4"/>
<circle cx="1968.4" cy="945.5" r="6.4"/>
<circle cx="1973.5" cy="932.4" r="6.4"/>
<circle cx="1978.5" cy="895.5" r="6.4"/>
<circle cx="1983.5" cy="880.4" r="6.4"/>
<circle cx="1988.4" cy="898.5" r="6.4"/>
<circle cx="1993.7" cy="899.6" r="6.4"/>
<circle cx="1998.6" cy="886.5" r="6.4"/>
<line x1="2007.0" y1="688.0" x2="2007.0" y2="1111.0" stroke="#f00" stroke-width="4.17"/>
</g>
<line class="g" x1="457" y1="1111.0" x2="457" y2="688.0"/>
<line class="g" x1="609" y1="1111.0" x2="609" y2="688.0"/>
<line class="g" x1="766" y1="1111.0" x2="766" y2="688.0"/>
<line class="g" x1="923" y1="1111.0" x2="923" y2="688.0"/>
<line class="g" x1="1075" y1="1111.0" x2="1075" y2="688.0"/>
<line class="g" x1="1232" y1="1111.0" x2="1232" y2="688.0"/>
<line class="g" x1="1384" y1="1111.0" x2="1384" y2="688.0"/>
<line class="g" x1="1546" y1="1111.0" x2="1546" y2="688.0"/>
<line class="g" x1="1703" y1="1111.0" x2="1703" y2="688.0"/>
<line class="g" x1="1850" y1="1111.0" x2="1850" y2="688.0"/>
<line class="g" x1="2007" y1="1111.0" x2="2007" y2="688.0"/>
<line class="g" x1="300.0" y1="720" x2="2160.0" y2="720"/>
<line class="g" x1="300.0" y1="775" x2="2160.0" y2="775"/>
<line class="g" x1="300.0" y1="830" x2="2160.0" y2="830"/>
<line class="g" x1="300.0" y1="885" x2="2160.0" y2="885"/>
<line class="g" x1="300.0" y1="940" x2="2160.0" y2="940"/>
<line class="g" x1="300.0" y1="995.5" x2="2160.0" y2="995.5"/>
<line class="g" x1="300.0" y1="1051" x2="2160.0" y2="1051"/>
<line class="g" x1="300.0" y1="1106" x2="2160.0" y2="1106"/>
<path class="t" d="M300 1111.0v-16.67M300 688.0v16.67M457 1111.0v-16.67M457 688.0v16.67M609 1111.0v-16.67M609 688.0v16.67M766 1111.0v-16.67M766 688.0v16.67M923 1111.0v-16.67M923 688.0v16.67M1075 1111.0v-16.67M1075 688.0v16.67M1232 1111.0v-16.67M1232 688.0v16.67M1384 1111.0v-16.67M1384 688.0v16.67M1546 1111.0v-16.67M1546 688.0v16.67M1703 1111.0v-16.67M1703 688.0v16.67M1850 1111.0v-16.67M1850 688.0v16.67M2007 1111.0v-16.67M2007 688.0v16.67M2160 1111.0v-16.67M2160 688.0v16.67M300.0 720h16.67M2160.0 720h-16.67M300.0 775.5h16.67M2160.0 775.5h-16.67M300.0 831h16.67M2160.0 831h-16.67M300.0 886h16.67M2160.0 886h-16.67M300.0 941h16.67M2160.0 941h-16.67M300.0 996h16.67M2160.0 996h-16.67M300.0 1051h16.67M2160.0 1051h-16.67M300.0 1106h16.67M2160.0 1106h-16.67"/>
<rect x="300.0" y="688.0" width="1860.0" height="423.0" fill="none" stroke="#000" stroke-width="4.17"/>
<text class="yt" x="285.4" y="729.9">30</text>
<text class="yt" x="285.4" y="784.9">20</text>
<text class="yt" x="285.4" y="839.9">10</text>
<text class="yt" x="285.4" y="894.9">0</text>
<text class="yt" x="285.4" y="950.9">−10</text>
<text class="yt" x="285.4" y="1005.9">−20</text>
<text class="yt" x="285.4" y="1060.9">−30</text>
<text class="yt" x="285.4" y="1115.9">−40</text>
<text class="xt" x="300.4" y="1146.3">05</text>
<text class="xt" x="457.4" y="1146.3">06</text>
<text class="xt" x="609.4" y="1146.3">07</text>
<text class="xt" x="766.4" y="1146.3">08</text>
<text class="xt" x="923.4" y="1146.3">09</text>
<text class="xt" x="1075.4" y="1146.3">10</text>
<text class="xt" x="1232.4" y="1146.3">11</text>
<text class="xt" x="1384.4" y="1146.3">12</text>
<text class="xt" x="1546.4" y="1146.3">01/2026</text>
<text class="xt" x="1703.4" y="1146.3">02</text>
<text class="xt" x="1850.4" y="1146.3">03</text>
<text class="xt" x="2007.4" y="1146.3">04</text>
<text class="xt" x="2160.4" y="1146.3">05</text>
<text class="yl" transform="translate(200.3 899.5) rotate(-90)">Delta N (mm)</text>
<rect x="316.1" y="704.1" width="368.0" height="52.6" fill="#fff" stroke="#000" stroke-width="4.17" stroke-linejoin="round"/>
<circle class="m" cx="339.4" cy="732.4" r="6.4"/><circle class="m" cx="386.4" cy="732.4" r="6.4"/>
<text class="lg" x="423.2" y="743.9">Difference of N</text>
</g>
<g>
<clipPath id="c2"><rect x="300.0" y="1196.0" width="1860.0" height="424.0"/></clipPath>
<g class="m" clip-path="url(#c2)">
<circle cx="300.4" cy="1399.6" r="6.4"/>
<circle cx="306.3" cy="1383.8" r="6.4"/>
<circle cx="311.5" cy="1383.3" r="6.4"/>
<circle cx="316" cy="1397.4" r="6.4"/>
<circle cx="321.2" cy="1403.7" r="6.4"/>
<circle cx="326.5" cy="1392.4" r="6.4"/>
<circle cx="331.3" cy="1376.4" r="6.4"/>
<circle cx="336.1" cy="1386.5" r="6.4"/>
<circle cx="341.5" cy="1386.1" r="6.4"/>
<circle cx="346.4" cy="1391.5" r="6.4"/>
<circle cx="352.4" cy="1415.4" r="6.4"/>
<circle cx="357.5" cy="1390.4" r="6.4"/>
<circle cx="372.3" cy="1396.5" r="6.4"/>
<circle cx="377.3" cy="1415.4" r="6.4"/>
<circle cx="382.3" cy="1395.6" r="6.4"/>
<circle cx="387.4" cy="1392.4" r="6.4"/>
<circle cx="392.5" cy="1367.3" r="6.4"/>
<circle cx="397.6" cy="1378.4" r="6.4"/>
<circle cx="402.5" cy="1383.3" r="6.4"/>
<circle cx="407.6" cy="1349.4" r="6.4"/>
<circle cx="412.5" cy="1393.3" r="6.4"/>
<circle cx="418.4" cy="1395.1" r="6.4"/>
<circle cx="423.4" cy="1404.6" r="6.4"/>
<circle cx="428.6" cy="1402.3" r="6.4"/>
<circle cx="448.3" cy="1397.4" r="6.4"/>
<circle cx="453.4" cy="1410.5" r="6.4"/>
<circle cx="458.6" cy="1400.3" r="6.4"/>
<circle cx="468.4" cy="1405.3" r="6.4"/>
<circle cx="473.6" cy="1416.6" r="6.4"/>
<circle cx="479.5" cy="1397.4" r="6.4"/>
<circle cx="484.5" cy="1377.5" r="6.4"/>
<circle cx="489.4" cy="1396.5" r="6.4"/>
<circle cx="494.5" cy="1412.3" r="6.4"/>
<circle cx="575.4" cy="1393.3" r="6.4"/>
<circle cx="580.4" cy="1407.3" r="6.4"/>
<circle cx="585.4" cy="1412.5" r="6.4"/>
<circle cx="590.3" cy="1396.5" r="6.4"/>
<circle cx="595.5" cy="1394.4" r="6.4"/>
<circle cx="601.5" cy="1386.1" r="6.4"/>
<circle cx="606.2" cy="1405.5" r="6.4"/>
<circle cx="611.4" cy="1386.1" r="6.4"/>
<circle cx="616.6" cy="1394.4" r="6.4"/>
<circle cx="621.1" cy="1394.6" r="6.4"/>
<circle cx="626" cy="1393.3" r="6.4"/>
<circle cx="631.3" cy="1395.1" r="6.4"/>
<circle cx="636.1" cy="1401.4" r="6.4"/>
<circle cx="641.4" cy="1412.7" r="6.4"/>
<circle cx="646.4" cy="1400.1" r="6.4"/>
<circle cx="651.6" cy="1417.5" r="6.4"/>
<circle cx="656.6" cy="1410" r="6.4"/>
<circle cx="662.4" cy="1391.3" r="6.4"/>
<circle cx="667.6" cy="1410.5" r="6.4"/>
<circle cx="672.6" cy="1401.4" r="6.4"/>
<circle cx="677.3" cy="1383.3" r="6.4"/>
<circle cx="682.7" cy="1405.5" r="6.4"/>
<circle cx="687.5" cy="1392.4" r="6.4"/>
<circle cx="702.4" cy="1388.3" r="6.4"/>
<circle cx="707.5" cy="1403.7" r="6.4"/>
<circle cx="712.5" cy="1404.3" r="6.4"/>
<circle cx="722.5" cy="1414.5" r="6.4"/>
<circle cx="728.3" cy="1443.5" r="6.4"/>
<circle cx="733.6" cy="1397.4" r="6.4"/>
<circle cx="738.6" cy="1396.5" r="6.4"/>
<circle cx="743.5" cy="1411.8" r="6.4"/>
<circle cx="748.4" cy="1404.1" r="6.4"/>
<circle cx="753.5" cy="1402.6" r="6.4"/>
<circle cx="758.2" cy="1388.3" r="6.4"/>
<circle cx="763.2" cy="1392.4" r="6.4"/>
<circle cx="768.6" cy="1392.4" r="6.4"/>
<circle cx="773.6" cy="1396" r="6.4"/>
<circle cx="778.5" cy="1390.1" r="6.4"/>
<circle cx="783.5" cy="1416.3" r="6.4"/>
<circle cx="789.2" cy="1397.6" r="6.4"/>
<circle cx="794.3" cy="1393.3" r="6.4"/>
<circle cx="799.3" cy="1379.3" r="6.4"/>
<circle cx="804.3" cy="1395.3" r="6.4"/>
<circle cx="809.3" cy="1403.7" r="6.4"/>
<circle cx="814.2" cy="1384.2" r="6.4"/>
<circle cx="819.5" cy="1386.5" r="6.4"/>
<circle cx="824.5" cy="1407.5" r="6.4"/>
<circle cx="829.6" cy="1382.3" r="6.4"/>
<circle cx="834.6" cy="1436.2" r="6.4"/>
<circle cx="839.4" cy="1411.4" r="6.4"/>
<circle cx="844.5" cy="1390.4" r="6.4"/>
<circle cx="850.4" cy="1395.6" r="6.4"/>
<circle cx="855.4" cy="1391.5" r="6.4"/>
<circle cx="860.4" cy="1387.1" r="6.4"/>
<circle cx="865.5" cy="1400.5" r="6.4"/>
<circle cx="870.3" cy="1414.5" r="6.4"/>
<circle cx="875.4" cy="1409.6" r="6.4"/>
<circle cx="880.5" cy="1392.4" r="6.4"/>
<circle cx="885.3" cy="1400.5" r="6.4"/>
<circle cx="890.5" cy="1401.4" r="6.4"/>
<circle cx="895.4" cy="1424.5" r="6.4"/>
<circle cx="900.3" cy="1426.3" r="6.4"/>
<circle cx="905.4" cy="1400.5" r="6.4"/>
<circle cx="911.3" cy="1401.4" r="6.4"/>
<circle cx="916.4" cy="1400.3" r="6.4"/>
<circle cx="921.5" cy="1432.4" r="6.4"/>
<circle cx="926.4" cy="1409.7" r="6.4"/>
<circle cx="931.5" cy="1397.4" r="6.4"/>
<circle cx="936.4" cy="1382.3" r="6.4"/>
<circle cx="941.8" cy="1390.4" r="6.4"/>
<circle cx="946.2" cy="1412.3" r="6.4"/>
<circle cx="951.3" cy="1420.4" r="6.4"/>
<circle cx="956.4" cy="1403.4" r="6.4"/>
<circle cx="961.4" cy="1393.3" r="6.4"/>
<circle cx="966.4" cy="1390.4" r="6.4"/>
<circle cx="972.1" cy="1403.7" r="6.4"/>
<circle cx="977.6" cy="1381.4" r="6.4"/>
<circle cx="982.5" cy="1400.3" r="6.4"/>
<circle cx="987.5" cy="1408.5" r="6.4"/>
<circle cx="992.5" cy="1421.5" r="6.4"/>
<circle cx="997.5" cy="1433.5" r="6.4"/>
<circle cx="1002.4" cy="1414.5" r="6.4"/>
<circle cx="1007.4" cy="1408.2" r="6.4"/>
<circle cx="1012.6" cy="1413.6" r="6.4"/>
<circle cx="1017.6" cy="1409.6" r="6.4"/>
<circle cx="1022.6" cy="1403.4" r="6.4"/>
<circle cx="1038.5" cy="1432.4" r="6.4"/>
<circle cx="1043.6" cy="1395.3" r="6.4"/>
<circle cx="1048.5" cy="1411.4" r="6.4"/>
<circle cx="1053.5" cy="1409.6" r="6.4"/>
<circle cx="1058.4" cy="1410.3" r="6.4"/>
<circle cx="1063.4" cy="1424.5" r="6.4"/>
<circle cx="1068.4" cy="1425.4" r="6.4"/>
<circle cx="1073.5" cy="1395.6" r="6.4"/>
<circle cx="1078.5" cy="1413.2" r="6.4"/>
<circle cx="1083.5" cy="1415" r="6.4"/>
<circle cx="1088.5" cy="1417.3" r="6.4"/>
<circle cx="1093.4" cy="1420.4" r="6.4"/>
<circle cx="1099.3" cy="1433.8" r="6.4"/>
<circle cx="1109.2" cy="1424.5" r="6.4"/>
<circle cx="1114.4" cy="1407.5" r="6.4"/>
<circle cx="1119.6" cy="1424.5" r="6.4"/>
<circle cx="1124.4" cy="1395.6" r="6.4"/>
<circle cx="1129.6" cy="1396.5" r="6.4"/>
<circle cx="1134.4" cy="1381.5" r="6.4"/>
<circle cx="1139.5" cy="1422.4" r="6.4"/>
<circle cx="1144.3" cy="1397.4" r="6.4"/>
<circle cx="1149.5" cy="1444.8" r="6.4"/>
<circle cx="1154.5" cy="1434.4" r="6.4"/>
<circle cx="1160.3" cy="1400.3" r="6.4"/>
<circle cx="1165.5" cy="1411.4" r="6.4"/>
<circle cx="1170.6" cy="1420.4" r="6.4"/>
<circle cx="1175.5" cy="1426.7" r="6.4"/>
<circle cx="1180.5" cy="1438.8" r="6.4"/>
<circle cx="1185.2" cy="1429.5" r="6.4"/>
<circle cx="1190.3" cy="1412.3" r="6.4"/>
<circle cx="1195.4" cy="1414.5" r="6.4"/>
<circle cx="1200.6" cy="1411.2" r="6.4"/>
<circle cx="1205.5" cy="1422.7" r="6.4"/>
<circle cx="1210.4" cy="1399.4" r="6.4"/>
<circle cx="1215.5" cy="1427.6" r="6.4"/>
<circle cx="1221.5" cy="1413.4" r="6.4"/>
<circle cx="1226.6" cy="1424.5" r="6.4"/>
<circle cx="1231.8" cy="1417.3" r="6.4"/>
<circle cx="1241.6" cy="1403.4" r="6.4"/>
<circle cx="1251.7" cy="1415.4" r="6.4"/>
<circle cx="1276.5" cy="1421.5" r="6.4"/>
<circle cx="1282.5" cy="1402.3" r="6.4"/>
<circle cx="1287.3" cy="1417.3" r="6.4"/>
<circle cx="1297.4" cy="1417.5" r="6.4"/>
<circle cx="1302.4" cy="1410" r="6.4"/>
<circle cx="1307.4" cy="1416.3" r="6.4"/>
<circle cx="1312.4" cy="1395.3" r="6.4"/>
<circle cx="1317.3" cy="1420.4" r="6.4"/>
<circle cx="1322.3" cy="1391.3" r="6.4"/>
<circle cx="1327.3" cy="1406.4" r="6.4"/>
<circle cx="1332.5" cy="1420.4" r="6.4"/>
<circle cx="1337.2" cy="1425.4" r="6.4"/>
<circle cx="1342.5" cy="1423.6" r="6.4"/>
<circle cx="1348.5" cy="1416.3" r="6.4"/>
<circle cx="1353" cy="1427.6" r="6.4"/>
<circle cx="1358.5" cy="1433.5" r="6.4"/>
<circle cx="1363.4" cy="1422.2" r="6.4"/>
<circle cx="1368.4" cy="1404.3" r="6.4"/>
<circle cx="1373.4" cy="1414.5" r="6.4"/>
<circle cx="1378.5" cy="1392.4" r="6.4"/>
<circle cx="1383.3" cy="1421.5" r="6.4"/>
<circle cx="1388.6" cy="1410.5" r="6.4"/>
<circle cx="1393.3" cy="1412.3" r="6.4"/>
<circle cx="1398.5" cy="1433.5" r="6.4"/>
<circle cx="1403.5" cy="1434.4" r="6.4"/>
<circle cx="1409.6" cy="1404.1" r="6.4"/>
<circle cx="1414.5" cy="1413.6" r="6.4"/>
<circle cx="1419.1" cy="1427.6" r="6.4"/>
<circle cx="1424.5" cy="1423.6" r="6.4"/>
<circle cx="1429.4" cy="1417.3" r="6.4"/>
<circle cx="1434.4" cy="1400.3" r="6.4"/>
<circle cx="1439.1" cy="1445.7" r="6.4"/>
<circle cx="1444.5" cy="1439.9" r="6.4"/>
<circle cx="1449.5" cy="1434.4" r="6.4"/>
<circle cx="1454.4" cy="1430.4" r="6.4"/>
<circle cx="1459.6" cy="1434.7" r="6.4"/>
<circle cx="1464.4" cy="1420.9" r="6.4"/>
<circle cx="1470.4" cy="1425.7" r="6.4"/>
<circle cx="1475.4" cy="1449.5" r="6.4"/>
<circle cx="1480.4" cy="1411.4" r="6.4"/>
<circle cx="1485.5" cy="1410.7" r="6.4"/>
<circle cx="1490.4" cy="1398.3" r="6.4"/>
<circle cx="1495.4" cy="1413.2" r="6.4"/>
<circle cx="1500.5" cy="1442.6" r="6.4"/>
<circle cx="1505.3" cy="1394.4" r="6.4"/>
<circle cx="1510.5" cy="1411.2" r="6.4"/>
<circle cx="1515.2" cy="1428.7" r="6.4"/>
<circle cx="1520.4" cy="1420.4" r="6.4"/>
<circle cx="1525.4" cy="1439.6" r="6.4"/>
<circle cx="1531.5" cy="1439" r="6.4"/>
<circle cx="1536.4" cy="1446.6" r="6.4"/>
<circle cx="1566.4" cy="1448.6" r="6.4"/>
<circle cx="1571.5" cy="1426.6" r="6.4"/>
<circle cx="1576.5" cy="1422.4" r="6.4"/>
<circle cx="1581.6" cy="1425.7" r="6.4"/>
<circle cx="1586.4" cy="1465.4" r="6.4"/>
<circle cx="1592.5" cy="1427.5" r="6.4"/>
<circle cx="1597.5" cy="1400.3" r="6.4"/>
<circle cx="1602.3" cy="1411.4" r="6.4"/>
<circle cx="1607.4" cy="1416.6" r="6.4"/>
<circle cx="1612.4" cy="1416.3" r="6.4"/>
<circle cx="1617.4" cy="1449.5" r="6.4"/>
<circle cx="1622.4" cy="1411.2" r="6.4"/>
<circle cx="1627.3" cy="1430.4" r="6.4"/>
<circle cx="1632.4" cy="1420.4" r="6.4"/>
<circle cx="1637.4" cy="1451.6" r="6.4"/>
<circle cx="1642.5" cy="1445.6" r="6.4"/>
<circle cx="1647.6" cy="1436.2" r="6.4"/>
<circle cx="1652.4" cy="1410.3" r="6.4"/>
<circle cx="1658.5" cy="1425.4" r="6.4"/>
<circle cx="1663.4" cy="1459.5" r="6.4"/>
<circle cx="1668.4" cy="1436.2" r="6.4"/>
<circle cx="1673.5" cy="1443.5" r="6.4"/>
<circle cx="1678.5" cy="1452.8" r="6.4"/>
<circle cx="1683.5" cy="1432.2" r="6.4"/>
<circle cx="1688.7" cy="1443.5" r="6.4"/>
<circle cx="1703.4" cy="1408.5" r="6.4"/>
<circle cx="1708.3" cy="1420.4" r="6.4"/>
<circle cx="1713.4" cy="1437.4" r="6.4"/>
<circle cx="1719.6" cy="1436.5" r="6.4"/>
<circle cx="1724.5" cy="1417.3" r="6.4"/>
<circle cx="1729.4" cy="1429.3" r="6.4"/>
<circle cx="1734.4" cy="1437.6" r="6.4"/>
<circle cx="1739.4" cy="1436.5" r="6.4"/>
<circle cx="1744.3" cy="1459.5" r="6.4"/>
<circle cx="1749.6" cy="1454.6" r="6.4"/>
<circle cx="1754.5" cy="1404.3" r="6.4"/>
<circle cx="1759.4" cy="1408.5" r="6.4"/>
<circle cx="1764.4" cy="1444.4" r="6.4"/>
<circle cx="1769.5" cy="1440.3" r="6.4"/>
<circle cx="1774.7" cy="1444.4" r="6.4"/>
<circle cx="1780.6" cy="1452.5" r="6.4"/>
<circle cx="1785.6" cy="1416.3" r="6.4"/>
<circle cx="1896.4" cy="1423.6" r="6.4"/>
<circle cx="1902.3" cy="1421.5" r="6.4"/>
<circle cx="1907.2" cy="1403.4" r="6.4"/>
<circle cx="1912.5" cy="1424.5" r="6.4"/>
<circle cx="1917.4" cy="1443.5" r="6.4"/>
<circle cx="1922.4" cy="1446.6" r="6.4"/>
<circle cx="1927.4" cy="1441.4" r="6.4"/>
<circle cx="1932.4" cy="1441.4" r="6.4"/>
<circle cx="1937.5" cy="1426.3" r="6.4"/>
<circle cx="1942.5" cy="1426.7" r="6.4"/>
<circle cx="1947.5" cy="1418.2" r="6.4"/>
<circle cx="1952.4" cy="1425.7" r="6.4"/>
<circle cx="1957.7" cy="1420.2" r="6.4"/>
<circle cx="1968.4" cy="1437.4" r="6.4"/>
<circle cx="1973.5" cy="1422.4" r="6.4"/>
<circle cx="1978.5" cy="1421.5" r="6.4"/>
<circle cx="1983.5" cy="1417.3" r="6.4"/>
<circle cx="1988.4" cy="1405" r="6.4"/>
<circle cx="1993.7" cy="1417.3" r="6.4"/>
<circle cx="1998.6" cy="1424.5" r="6.4"/>
<line x1="2007.0" y1="1196.0" x2="2007.0" y2="1620.0" stroke="#f00" stroke-width="4.17"/>
</g>
<text x="2008.2" y="1273.9" font-size="24.7" text-anchor="end" style="fill:#f00">DoY 092</text>
<line class="g" x1="457" y1="1620.0" x2="457" y2="1196.0"/>
<line class="g" x1="609" y1="1620.0" x2="609" y2="1196.0"/>
<line class="g" x1="766" y1="1620.0" x2="766" y2="1196.0"/>
<line class="g" x1="923" y1="1620.0" x2="923" y2="1196.0"/>
<line class="g" x1="1075" y1="1620.0" x2="1075" y2="1196.0"/>
<line class="g" x1="1232" y1="1620.0" x2="1232" y2="1196.0"/>
<line class="g" x1="1384" y1="1620.0" x2="1384" y2="1196.0"/>
<line class="g" x1="1546" y1="1620.0" x2="1546" y2="1196.0"/>
<line class="g" x1="1703" y1="1620.0" x2="1703" y2="1196.0"/>
<line class="g" x1="1850" y1="1620.0" x2="1850" y2="1196.0"/>
<line class="g" x1="2007" y1="1620.0" x2="2007" y2="1196.0"/>
<line class="g" x1="300.0" y1="1216" x2="2160.0" y2="1216"/>
<line class="g" x1="300.0" y1="1267" x2="2160.0" y2="1267"/>
<line class="g" x1="300.0" y1="1319" x2="2160.0" y2="1319"/>
<line class="g" x1="300.0" y1="1370" x2="2160.0" y2="1370"/>
<line class="g" x1="300.0" y1="1421" x2="2160.0" y2="1421"/>
<line class="g" x1="300.0" y1="1472" x2="2160.0" y2="1472"/>
<line class="g" x1="300.0" y1="1523.5" x2="2160.0" y2="1523.5"/>
<line class="g" x1="300.0" y1="1575" x2="2160.0" y2="1575"/>
<path class="t" d="M300 1620.0v-16.67M300 1196.0v16.67M457 1620.0v-16.67M457 1196.0v16.67M609 1620.0v-16.67M609 1196.0v16.67M766 1620.0v-16.67M766 1196.0v16.67M923 1620.0v-16.67M923 1196.0v16.67M1075 1620.0v-16.67M1075 1196.0v16.67M1232 1620.0v-16.67M1232 1196.0v16.67M1384 1620.0v-16.67M1384 1196.0v16.67M1546 1620.0v-16.67M1546 1196.0v16.67M1703 1620.0v-16.67M1703 1196.0v16.67M1850 1620.0v-16.67M1850 1196.0v16.67M2007 1620.0v-16.67M2007 1196.0v16.67M2160 1620.0v-16.67M2160 1196.0v16.67M300.0 1216h16.67M2160.0 1216h-16.67M300.0 1267h16.67M2160.0 1267h-16.67M300.0 1319h16.67M2160.0 1319h-16.67M300.0 1370h16.67M2160.0 1370h-16.67M300.0 1421h16.67M2160.0 1421h-16.67M300.0 1472.5h16.67M2160.0 1472.5h-16.67M300.0 1523.5h16.67M2160.0 1523.5h-16.67M300.0 1575h16.67M2160.0 1575h-16.67"/>
<rect x="300.0" y="1196.0" width="1860.0" height="424.0" fill="none" stroke="#000" stroke-width="4.17"/>
<text class="yt" x="285.4" y="1225.9">80</text>
<text class="yt" x="285.4" y="1276.9">60</text>
<text class="yt" x="285.4" y="1328.9">40</text>
<text class="yt" x="285.4" y="1379.9">20</text>
<text class="yt" x="285.4" y="1430.9">0</text>
<text class="yt" x="285.4" y="1482.9">−20</text>
<text class="yt" x="285.4" y="1533.9">−40</text>
<text class="yt" x="285.4" y="1584.9">−60</text>
<text class="xt" x="300.4" y="1653.7">05</text>
<text class="xt" x="457.4" y="1653.7">06</text>
<text class="xt" x="609.4" y="1653.7">07</text>
<text class="xt" x="766.4" y="1653.7">08</text>
<text class="xt" x="923.4" y="1653.7">09</text>
<text class="xt" x="1075.4" y="1653.7">10</text>
<text class="xt" x="1232.4" y="1653.7">11</text>
<text class="xt" x="1384.4" y="1653.7">12</text>
<text class="xt" x="1546.4" y="1653.7">01/2026</text>
<text class="xt" x="1703.4" y="1653.7">02</text>
<text class="xt" x="1850.4" y="1653.7">03</text>
<text class="xt" x="2007.4" y="1653.7">04</text>
<text class="xt" x="2160.4" y="1653.7">05</text>
<text class="yl" transform="translate(197.2 1406.0) rotate(-90)">Delta GPS-height(mm)</text>
<rect x="316.1" y="1213" width="364.0" height="52.4" fill="#fff" stroke="#000" stroke-width="4.17" stroke-linejoin="round"/>
<circle class="m" cx="339.4" cy="1241" r="6.4"/><circle class="m" cx="386.4" cy="1241" r="6.4"/>
<text class="lg" x="423.2" y="1252.2">Difference of h</text>
</g>
<text x="1231" y="1706.3" font-size="37.5" text-anchor="middle">Recent 1 Year (grid: 1 Month)</text>
</svg></body></html>
